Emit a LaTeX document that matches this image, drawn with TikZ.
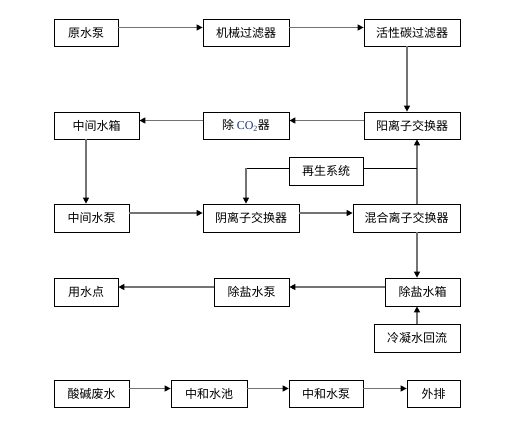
\documentclass[tikz,border=0pt]{standalone}
\usepackage{fontspec}
\setmainfont{Noto Sans CJK SC}
\newfontfamily\cofont{Liberation Serif}
\usetikzlibrary{arrows.meta}
\definecolor{coblue}{RGB}{30,50,130}
\tikzset{
    box/.style={draw, line width=0.75pt, minimum height=27pt, inner sep=0pt, font=\fontsize{12}{14}\selectfont}, % every box of the flow sheet
    flow/.style={draw=black!55, line width=1.3pt, -{Triangle[length=6pt,width=6pt,color=black]}}, % gray line, black head
    link/.style={draw=black, line width=0.75pt}, % plain thin line
}

\begin{document}
\begin{tikzpicture}[x=1pt, y=-1pt]
    \useasboundingbox (0,0) rectangle (523,425);
    % row 1
    \node[box, minimum width=64pt] (yuanbeng) at (86,32.5) {原水泵};
    \node[box, minimum width=86pt] (jixie) at (246,32.5) {机械过滤器};
    \node[box, minimum width=96pt] (huoxing) at (412,32.5) {活性碳过滤器};
    % row 2
    \node[box, minimum width=85pt] (zjxiang) at (96.5,125.5) {中间水箱};
    \node[box, minimum width=86pt] (chuco) at (246,125.5) {除 {\cofont\color{coblue}CO\textsubscript{2}}器};
    \node[box, minimum width=96pt] (yangli) at (412,125.5) {阳离子交换器};
    \node[box, minimum width=74pt, minimum height=28pt] (zaisheng) at (326,171) {再生系统};
    % row 3
    \node[box, minimum width=75pt, minimum height=28pt] (zjbeng) at (91.5,218) {中间水泵};
    \node[box, minimum width=96pt, minimum height=28pt] (yinli) at (251,218) {阴离子交换器};
    \node[box, minimum width=107pt, minimum height=28pt] (hunhe) at (406.5,218) {混合离子交换器};
    % row 4
    \node[box, minimum width=64pt, minimum height=28pt] (yongshui) at (86,292) {用水点};
    \node[box, minimum width=75pt, minimum height=28pt] (cybeng) at (251.5,292) {除盐水泵};
    \node[box, minimum width=75pt, minimum height=28pt] (cyxiang) at (422.5,292) {除盐水箱};
    \node[box, minimum width=86pt, minimum height=28pt] (lengning) at (417,338) {冷凝水回流};
    % row 5
    \node[box, minimum width=75pt] (feishui) at (91.5,393.5) {酸碱废水};
    \node[box, minimum width=76pt] (zhchi) at (209,393.5) {中和水池};
    \node[box, minimum width=74pt] (zhbeng) at (326,393.5) {中和水泵};
    \node[box, minimum width=53pt] (waipai) at (433.5,393.5) {外排};

    \coordinate (zsleft) at (246,168);
    \coordinate (zsright) at (417,168);

    \draw[flow] ([yshift=5pt]yuanbeng.east) -- ([yshift=5pt]jixie.west);
    \draw[flow] ([yshift=5pt]jixie.east) -- ([yshift=5pt]huoxing.west);
    \draw[flow] ([xshift=-5pt]huoxing.south) -- ([xshift=-5pt]yangli.north);
    \draw[flow] ([yshift=5pt]yangli.west) -- ([yshift=5pt]chuco.east);
    \draw[flow] ([yshift=5pt]chuco.west) -- ([yshift=5pt]zjxiang.east);
    \draw[flow] ([xshift=-10.5pt]zjxiang.south) coordinate (a) -- (a |- zjbeng.north);
    \draw[flow] ([yshift=5pt]zjbeng.east) -- ([yshift=5pt]yinli.west);
    \draw[flow] ([yshift=5pt]yinli.east) -- ([yshift=5pt]hunhe.west);
    \draw[flow, {Triangle[length=6pt,width=6pt,color=black]}-] ([xshift=5pt]yangli.south) coordinate (b) -- (b |- hunhe.north);
    \draw[link] ([yshift=3pt]zaisheng.west) -- (zsleft);
    \draw[link] ([yshift=3pt]zaisheng.east) -- (zsright);
    \draw[flow] (zsleft) -- (zsleft |- yinli.north);
    \draw[flow] ([xshift=10.5pt]hunhe.south) coordinate (c) -- (c |- cyxiang.north);
    \draw[flow] (lengning.north) -- (lengning.north |- cyxiang.south);
    \draw[flow] ([yshift=5pt]cyxiang.west) -- ([yshift=5pt]cybeng.east);
    \draw[flow] ([yshift=5pt]cybeng.west) -- ([yshift=5pt]yongshui.east);
    \draw[flow] ([yshift=5pt]feishui.east) -- ([yshift=5pt]zhchi.west);
    \draw[flow] ([yshift=5pt]zhchi.east) -- ([yshift=5pt]zhbeng.west);
    \draw[flow] ([yshift=5pt]zhbeng.east) -- ([yshift=5pt]waipai.west);
\end{tikzpicture}
\end{document}
